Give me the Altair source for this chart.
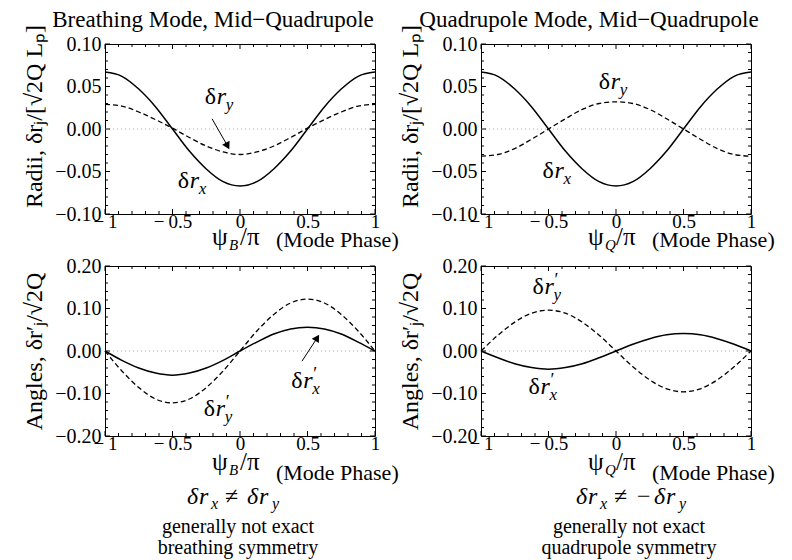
import altair as alt
import pandas as pd

SERIF = "Liberation Serif"

PHASE = [-1, -0.875, -0.75, -0.625, -0.5, -0.375, -0.25, -0.125, 0,
         0.125, 0.25, 0.375, 0.5, 0.625, 0.75, 0.875, 1]

# Breathing mode radii
B_RX = [0.067, 0.062, 0.047, 0.026, 0.000, -0.026, -0.047, -0.062, -0.067,
        -0.062, -0.047, -0.026, 0.000, 0.026, 0.047, 0.062, 0.067]
B_RY = [0.029, 0.027, 0.020, 0.011, 0.001, -0.010, -0.020, -0.027, -0.030,
        -0.027, -0.020, -0.010, 0.001, 0.011, 0.020, 0.027, 0.029]
# Quadrupole mode radii
Q_RX = [0.067, 0.062, 0.047, 0.026, 0.000, -0.026, -0.047, -0.062, -0.067,
        -0.062, -0.047, -0.026, 0.000, 0.026, 0.047, 0.062, 0.067]
Q_RY = [-0.032, -0.030, -0.023, -0.012, 0.000, 0.012, 0.023, 0.030, 0.032,
        0.030, 0.023, 0.012, 0.000, -0.012, -0.023, -0.030, -0.032]
# Breathing mode angles
B_DRX = [0.000, -0.022, -0.040, -0.052, -0.057, -0.052, -0.040, -0.022, 0.000,
         0.021, 0.040, 0.052, 0.056, 0.052, 0.040, 0.021, 0.000]
B_DRY = [0.000, -0.047, -0.086, -0.113, -0.122, -0.113, -0.086, -0.047, 0.000,
         0.047, 0.086, 0.113, 0.122, 0.113, 0.086, 0.047, 0.000]
# Quadrupole mode angles
Q_DRX = [0.000, -0.016, -0.030, -0.039, -0.043, -0.039, -0.030, -0.016, 0.000,
         0.016, 0.029, 0.038, 0.041, 0.038, 0.029, 0.016, 0.000]
Q_DRY = [0.000, 0.037, 0.068, 0.089, 0.096, 0.089, 0.068, 0.037, 0.000,
         -0.037, -0.068, -0.089, -0.096, -0.089, -0.068, -0.037, 0.000]

X_TICK_LABELS = [-1, -0.5, 0, 0.5, 1]
R_TICK_LABELS = [-0.10, -0.05, 0.0, 0.05, 0.10]
A_TICK_LABELS = [-0.20, -0.10, 0.0, 0.10, 0.20]
X_MINOR = [round(-1 + 0.1 * i, 3) for i in range(21)]
R_MINOR = [round(-0.1 + 0.01 * i, 3) for i in range(21)]
A_MINOR = [round(-0.2 + 0.02 * i, 3) for i in range(21)]

TITLE_B = "Breathing Mode, Mid\u2212Quadrupole"
TITLE_Q = "Quadrupole Mode, Mid\u2212Quadrupole"
YT_R = "Radii, \u03b4r\u2C7C/[\u221a2Q L\u209a]"
YT_A = "Angles,  \u03b4r\u2032\u2C7C/\u221a2Q"

W, H = 270, 170


def panel(solid, dashed, ydom, yticks, yminor, ytitle, title_y, labels, arrow, xsub,
          xt_y, mp_y, top_title=None, notes=None):
    xs = alt.Scale(domain=[-1, 1], nice=False, zero=False)
    ys = alt.Scale(domain=ydom, nice=False, zero=False)
    xaxis = alt.Axis(values=X_TICK_LABELS, title=None, domain=False, ticks=False,
                     grid=False, labelFont=SERIF, labelFontSize=19, labelPadding=-2,
                     labelFlush=False, labelOverlap=False, labelBound=False,
                     labelColor="black",
                     labelExpr="datum.value < 0 ? '\u2212\u2009' + format(-datum.value, '') : format(datum.value, '')")
    yaxis = alt.Axis(values=yticks, format=".2f", title=ytitle, domain=False,
                     ticks=False, grid=False, labelFont=SERIF, labelFontSize=20,
                     labelPadding=4, labelColor="black", labelOverlap=False,
                     titleFont=SERIF, titleFontSize=24, titleFontWeight="normal",
                     titleColor="black", titlePadding=8, titleY=title_y)

    def X(f="x"):
        return alt.X(f, type="quantitative", scale=xs, axis=xaxis)

    def Y(f="y"):
        return alt.Y(f, type="quantitative", scale=ys, axis=yaxis)

    layers = []
    # dotted zero line
    layers.append(alt.Chart(pd.DataFrame({"x": [-1], "x2": [1], "y": [0]}))
                  .mark_rule(color="#aaaaaa", strokeDash=[1, 3], strokeWidth=1)
                  .encode(x=X(), x2="x2:Q", y=Y()))
    # curves
    df_s = pd.DataFrame({"x": PHASE, "y": solid})
    df_d = pd.DataFrame({"x": PHASE, "y": dashed})
    layers.append(alt.Chart(df_d).mark_line(color="black", strokeWidth=1.3,
                                            strokeDash=[5, 3], interpolate="monotone")
                  .encode(x=X(), y=Y()))
    layers.append(alt.Chart(df_s).mark_line(color="black", strokeWidth=1.5,
                                            interpolate="monotone")
                  .encode(x=X(), y=Y()))
    # inward ticks
    lx = 2.0 / W
    ly = (ydom[1] - ydom[0]) / H
    rows = []
    for t in X_MINOR:
        L = 5 if t in X_TICK_LABELS else 3
        rows.append((t, t, ydom[0], ydom[0] + L * ly))
        rows.append((t, t, ydom[1], ydom[1] - L * ly))
    for t in yminor:
        L = 5 if any(abs(t - v) < 1e-9 for v in yticks) else 3
        rows.append((-1, -1 + L * lx, t, t))
        rows.append((1, 1 - L * lx, t, t))
    tdf = pd.DataFrame(rows, columns=["x", "x2", "y", "y2"])
    layers.append(alt.Chart(tdf).mark_rule(color="black", strokeWidth=1)
                  .encode(x=X(), x2="x2:Q", y=Y(), y2="y2:Q"))

    def text_parts(x, y, parts):
        out = []
        for (txt, dx, dy, size, style) in parts:
            out.append(alt.Chart(pd.DataFrame({"x": [x], "y": [y]}))
                       .mark_text(text=txt, align="left", baseline="alphabetic",
                                  dx=dx, dy=dy, font=SERIF, fontSize=size,
                                  fontStyle=style, color="black")
                       .encode(x=X(), y=Y()))
        return out

    # curve labels
    for (lx0, ly0, sub, prime) in labels:
        parts = [("\u03b4", 0, 0, 24, "normal"), ("r", 12, 0, 24, "italic"),
                 (sub, 21, 6, 17, "italic")]
        if prime:
            parts.append(("\u2032", 22, -8, 18, "normal"))
        layers += text_parts(lx0, ly0, parts)

    # arrow
    if arrow is not None:
        (ax0, ay0, ax1, ay1, hx, hy, ang) = arrow
        layers.append(alt.Chart(pd.DataFrame({"x": [ax0, hx], "y": [ay0, hy]}))
                      .mark_line(color="black", strokeWidth=1)
                      .encode(x=X(), y=Y()))
        layers.append(alt.Chart(pd.DataFrame({"x": [hx], "y": [hy]}))
                      .mark_point(shape="triangle-up", filled=True, size=70,
                                  angle=ang, color="black", opacity=1)
                      .encode(x=X(), y=Y()))

    # x axis title
    layers += text_parts(-0.207, xt_y, [("\u03c8", 0, 0, 25, "normal"),
                                        (xsub, 17, 5, 15, "italic"),
                                        ("/\u03c0", 28, 0, 25, "normal")])
    layers += text_parts(0.266, mp_y, [("(Mode Phase)", 0, 0, 22, "normal")])

    if top_title is not None:
        layers.append(alt.Chart(pd.DataFrame({"x": [-0.2], "y": [top_title[1]]}))
                      .mark_text(text=top_title[0], align="center", baseline="alphabetic",
                                 font=SERIF, fontSize=23, color="black")
                      .encode(x=X(), y=Y()))
    if notes is not None:
        (cx, math_x, yl, math_parts, l2, l3) = notes
        layers += text_parts(math_x, yl[0], math_parts)
        for txt, yy in ((l2, yl[1]), (l3, yl[2])):
            layers.append(alt.Chart(pd.DataFrame({"x": [cx], "y": [yy]}))
                          .mark_text(text=txt, align="center", baseline="alphabetic",
                                     font=SERIF, fontSize=20, color="black")
                          .encode(x=X(), y=Y()))

    return alt.layer(*layers).properties(width=W, height=H)


MATH_L = [("\u03b4", 0, 0, 24, "italic"), ("r", 12, 0, 24, "italic"),
          ("x", 24, 5, 16, "italic"), ("\u2260", 38, 0, 24, "normal"),
          ("\u03b4", 60, 0, 24, "italic"), ("r", 72, 0, 24, "italic"),
          ("y", 85, 5, 16, "italic")]
MATH_R = [("\u03b4", 0, 0, 24, "italic"), ("r", 12, 0, 24, "italic"),
          ("x", 24, 5, 16, "italic"), ("\u2260", 38, 0, 24, "normal"),
          ("\u2212", 61, 0, 24, "normal"),
          ("\u03b4", 78, 0, 24, "italic"), ("r", 90, 0, 24, "italic"),
          ("y", 103, 5, 16, "italic")]

NOTE_Y = [-0.360, -0.428, -0.477]

TL = panel(B_RX, B_RY, [-0.1, 0.1], R_TICK_LABELS, R_MINOR, YT_R, 72,
           labels=[(-0.262, 0.029, "y", False), (-0.461, -0.069, "x", False)],
           arrow=(-0.207, 0.012, -0.081, -0.026, -0.092, -0.020, 152),
           xsub="B", xt_y=-0.1365, mp_y=-0.1386,
           top_title=(TITLE_B, 0.1200))
TR = panel(Q_RX, Q_RY, [-0.1, 0.1], R_TICK_LABELS, R_MINOR, YT_R, 72,
           labels=[(-0.127, 0.047, "y", False), (-0.545, -0.058, "x", False)],
           arrow=None, xsub="Q", xt_y=-0.1365, mp_y=-0.1386,
           top_title=(TITLE_Q, 0.1200))
BL = panel(B_DRX, B_DRY, [-0.2, 0.2], A_TICK_LABELS, A_MINOR, YT_A, 85,
           labels=[(0.380, -0.087, "x", True), (-0.269, -0.153, "y", True)],
           arrow=(0.459, -0.024, 0.585, 0.040, 0.572, 0.031, 32),
           xsub="B", xt_y=-0.28, mp_y=-0.3035,
           notes=(-0.015, -0.393, NOTE_Y, MATH_L,
                  "generally not exact", "breathing symmetry"))
BR = panel(Q_DRX, Q_DRY, [-0.2, 0.2], A_TICK_LABELS, A_MINOR, YT_A, 85,
           labels=[(-0.619, 0.134, "y", True), (-0.649, -0.101, "x", True)],
           arrow=None, xsub="Q", xt_y=-0.28, mp_y=-0.3035,
           notes=(0.096, -0.296, NOTE_Y, MATH_R,
                  "generally not exact", "quadrupole symmetry"))

chart = alt.concat(TL, TR, BL, BR, columns=2,
                   spacing={"row": 52, "column": 106}, bounds="flush") \
    .properties(padding={"left": 14, "top": 0, "right": 0, "bottom": 0}) \
    .configure_view(stroke="black", strokeWidth=1) \
    .configure_axis(labelFont=SERIF, titleFont=SERIF) \
    .configure_text(font=SERIF)

chart.save("out.html", embed_options={"renderer": "svg", "actions": False})
